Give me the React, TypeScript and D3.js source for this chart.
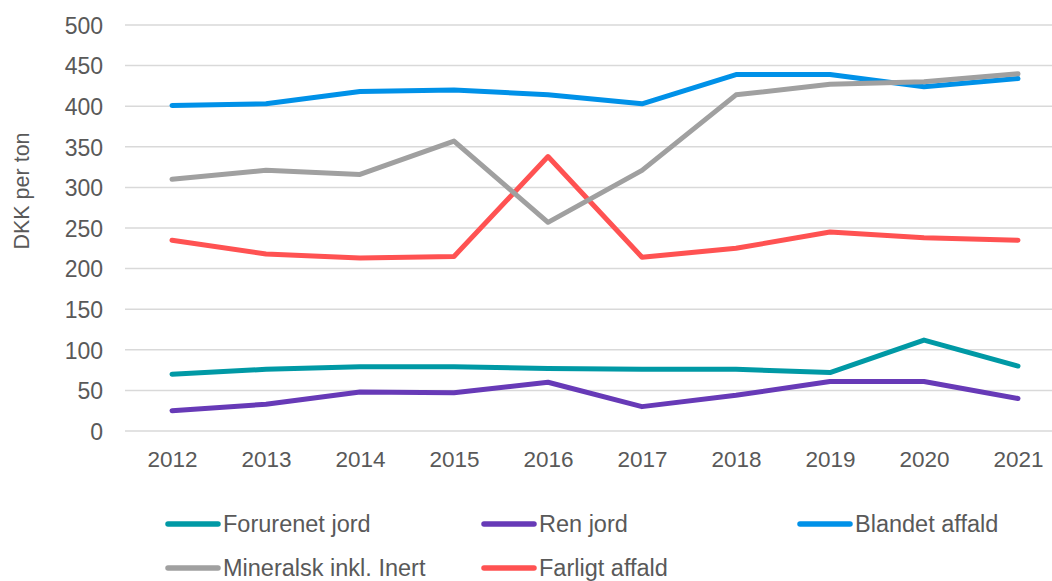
import React, { useEffect, useRef } from "react";
import * as d3 from "d3";

const years = ["2012", "2013", "2014", "2015", "2016", "2017", "2018", "2019", "2020", "2021"];
const forurenetJord = [70, 76, 79, 79, 77, 76, 76, 72, 112, 80];
const renJord = [25, 33, 48, 47, 60, 30, 44, 61, 61, 40];
const blandetAffald = [401, 403, 418, 420, 414, 403, 439, 439, 424, 434];
const mineralsk = [310, 321, 316, 357, 257, 321, 414, 427, 430, 440];
const farligtAffald = [235, 218, 213, 215, 338, 214, 225, 245, 238, 235];
const yTicks = [0, 50, 100, 150, 200, 250, 300, 350, 400, 450, 500];

const series = [
  { name: "Forurenet jord", values: forurenetJord, color: "#0099A5" },
  { name: "Ren jord", values: renJord, color: "#673AB7" },
  { name: "Blandet affald", values: blandetAffald, color: "#0091E8" },
  { name: "Mineralsk inkl. Inert", values: mineralsk, color: "#A0A0A0" },
  { name: "Farligt affald", values: farligtAffald, color: "#FF5252" },
];
// draw order: which line lies on top
const drawOrder = [0, 1, 2, 4, 3];

const width = 1052;
const height = 581;
const textColor = "#595959";
const font = "'Liberation Sans', Arial, sans-serif";

export default function App() {
  const ref = useRef<SVGSVGElement>(null);

  useEffect(() => {
    const svg = d3.select(ref.current);
    svg.selectAll("*").remove();

    const xScale = d3.scalePoint().domain(years).range([172, 1018]);
    const yScale = d3.scaleLinear().domain([0, 500]).range([431, 25]);

    // gridlines
    svg.append("g").selectAll("line").data(yTicks).join("line")
      .attr("x1", 125).attr("x2", width)
      .attr("y1", d => yScale(d)).attr("y2", d => yScale(d))
      .attr("stroke", "#D9D9D9").attr("stroke-width", 1.5);

    // y axis labels
    const yAxis = d3.axisLeft(yScale).tickValues(yTicks).tickSize(0).tickPadding(0);
    const yg = svg.append("g").attr("transform", "translate(103,0)").call(yAxis);
    yg.select(".domain").remove();
    yg.selectAll("text").attr("font-size", "23px").attr("font-family", font).attr("fill", textColor).attr("dy", "0.36em");

    // x axis labels
    const xAxis = d3.axisBottom(xScale).tickSize(0).tickPadding(0);
    const xg = svg.append("g").attr("transform", "translate(0,451)").call(xAxis);
    xg.select(".domain").remove();
    xg.selectAll("text").attr("font-size", "22.5px").attr("font-family", font).attr("fill", textColor).attr("dy", "0.71em");

    // y title
    svg.append("text").text("DKK per ton")
      .attr("transform", "translate(29,191) rotate(-90)")
      .attr("text-anchor", "middle")
      .attr("font-size", "21.5px").attr("font-family", font).attr("fill", textColor);

    const line = d3.line<number>()
      .x((_, i) => xScale(years[i]) as number)
      .y(d => yScale(d));

    svg.append("g").selectAll("path").data(drawOrder.map(i => series[i])).join("path")
      .attr("d", d => line(d.values))
      .attr("fill", "none")
      .attr("stroke", d => d.color)
      .attr("stroke-width", 5)
      .attr("stroke-linecap", "round")
      .attr("stroke-linejoin", "round");

    // legend
    const legend = svg.append("g").selectAll("g").data(series).join("g")
      .attr("transform", (_, i) => `translate(${168 + (i % 3) * 316},${i < 3 ? 524 : 568})`);
    legend.append("line")
      .attr("x1", 0).attr("x2", 50)
      .attr("stroke", d => d.color).attr("stroke-width", 5.5).attr("stroke-linecap", "round");
    legend.append("text").text(d => d.name)
      .attr("x", 55).attr("dy", "0.36em")
      .attr("font-size", "23.5px").attr("font-family", font).attr("fill", textColor);
  }, []);

  return (
    <svg ref={ref} width={width} height={height}
      style={{ position: "absolute", left: 0, top: 0, background: "#fff" }} />
  );
}
